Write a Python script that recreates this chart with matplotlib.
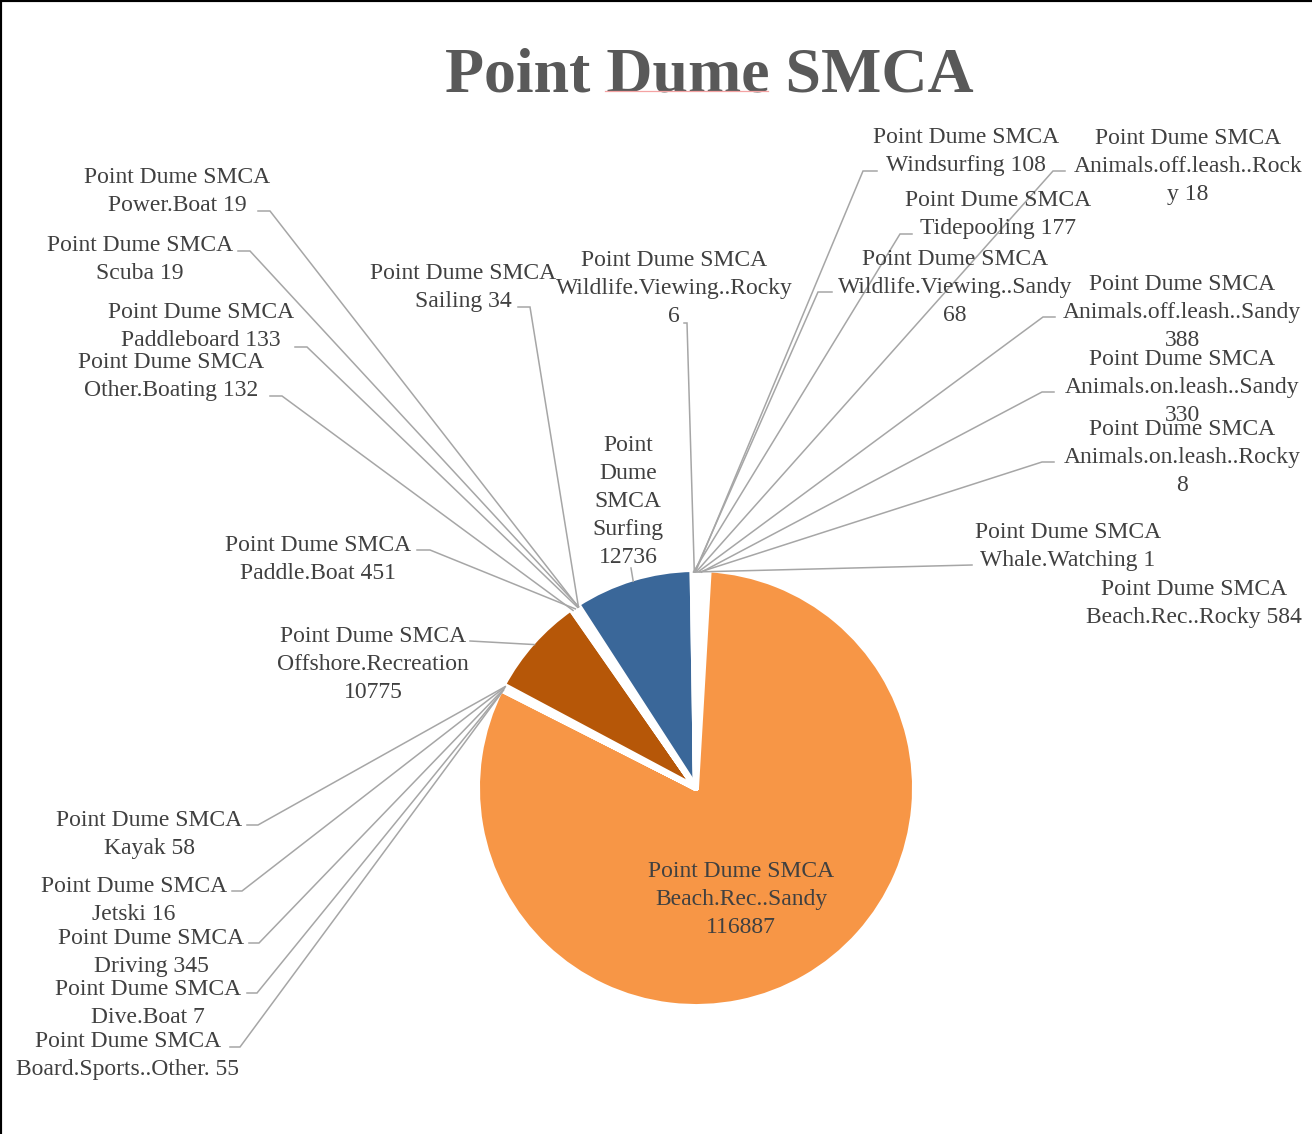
import textwrap
import numpy as np
import matplotlib
matplotlib.use("Agg")
import matplotlib.pyplot as plt
from matplotlib.lines import Line2D

# ---------------- data ----------------
location = "Point Dume SMCA"
categories = [
    "Animals.off.leash..Rocky", "Animals.off.leash..Sandy", "Animals.on.leash..Rocky",
    "Animals.on.leash..Sandy", "Beach.Rec..Rocky", "Beach.Rec..Sandy",
    "Board.Sports..Other.", "Dive.Boat", "Driving", "Jetski", "Kayak",
    "Offshore.Recreation", "Other.Boating", "Paddle.Boat", "Paddleboard",
    "Power.Boat", "Sailing", "Scuba", "Surfing", "Tidepooling",
    "Whale.Watching", "Wildlife.Viewing..Rocky", "Wildlife.Viewing..Sandy", "Windsurfing",
]
values = [18, 388, 8, 330, 584, 116887, 55, 7, 345, 16, 58, 10775, 132, 451, 133,
          19, 34, 19, 12736, 177, 1, 6, 68, 108]

# ---------------- style / layout ----------------
colors = ["#4F81BD", "#C0504D", "#9BBB59", "#8064A2", "#4BACC6", "#F79646",
          "#3A5F8E", "#8F3B39", "#738C42", "#5F4A79", "#378196", "#B65708",
          "#7F9FCF", "#CF7E7C", "#B5CD8A", "#A28EBE", "#7EC2D6", "#F9B27E",
          "#3A6799", "#9C3F3C", "#7E9A48", "#6A5287", "#3D8EA6", "#C96A1E"]

W, H = 1312, 1134
FONT = "Liberation Serif"
TXT = "#404040"
LEAD = "#A6A6A6"
PITCH = 28

# label layout in pixel coords: centre x, centre y of first line, wrap width, leader (xa, xb, y)
layout = {
    "Power.Boat": (177, 175, 30, (258, 270, 211)),
    "Scuba": (140, 243, 30, (238, 250, 251)),
    "Paddleboard": (201, 310, 30, (295, 307, 347)),
    "Other.Boating": (171, 360, 30, (270, 282, 396)),
    "Paddle.Boat": (318, 543, 30, (417, 430, 550)),
    "Offshore.Recreation": (373, 634, 19, (470, 470, 641)),
    "Sailing": (463, 271, 30, (518, 530, 307)),
    "Wildlife.Viewing..Rocky": (674, 258, 23, (684, 687, 323)),
    "Surfing": (628, 443, 7, (631, 631, 568)),
    "Windsurfing": (966, 135, 30, (877, 863, 171)),
    "Animals.off.leash..Rocky": (1188, 136, 23, (1065, 1053, 171)),
    "Tidepooling": (998, 198, 30, (912, 900, 234)),
    "Wildlife.Viewing..Sandy": (955, 257, 23, (832, 818, 292)),
    "Animals.off.leash..Sandy": (1182, 282, 24, (1055, 1043, 317)),
    "Animals.on.leash..Sandy": (1182, 357, 23, (1054, 1042, 392)),
    "Animals.on.leash..Rocky": (1182, 427, 23, (1054, 1042, 462)),
    "Whale.Watching": (1068, 530, 30, (972, 972, 565)),
    "Beach.Rec..Rocky": (1194, 587, 30, None),
    "Beach.Rec..Sandy": (741, 869, 16, None),
    "Kayak": (149, 818, 30, (247, 258, 825)),
    "Jetski": (134, 884, 30, (232, 242, 891)),
    "Driving": (151, 936, 30, (249, 259, 943)),
    "Dive.Boat": (148, 987, 30, (247, 257, 993)),
    "Board.Sports..Other.": (128, 1039, 30, (230, 240, 1047)),
}


def Y(y):
    return H - y


fig = plt.figure(figsize=(W / 100, H / 100), dpi=100)
ax = fig.add_axes([0, 0, 1, 1])
ax.set_xlim(0, W)
ax.set_ylim(0, H)
ax.set_aspect("equal")
ax.axis("off")

cx, cy, R = 696, Y(788), 219
wedges, _ = ax.pie(values, colors=colors, startangle=90, counterclock=False,
                   center=(cx, cy), radius=R, frame=True,
                   wedgeprops=dict(edgecolor="white", linewidth=4.3, joinstyle="round"))
ax.set_xlim(0, W)
ax.set_ylim(0, H)
ax.axis("off")

edge_r = R - 3
for cat, val, wdg in zip(categories, values, wedges):
    cxl, y0, wrapw, lead = layout[cat]
    lines = textwrap.wrap(location, wrapw) + textwrap.wrap(f"{cat} {val}", wrapw,
                                                            break_long_words=True)
    for i, ln in enumerate(lines):
        ax.text(cxl, Y(y0 + i * PITCH + 8), ln, ha="center", va="baseline",
                fontsize=17, family=FONT, color=TXT, zorder=5)
    if lead is not None:
        mid = np.deg2rad((wdg.theta1 + wdg.theta2) / 2)
        wx, wy = cx + edge_r * np.cos(mid), cy + edge_r * np.sin(mid)
        xa, xb, ly = lead
        ax.plot([xa, xb, wx], [Y(ly), Y(ly), wy], color=LEAD, lw=1.1,
                solid_joinstyle="miter", zorder=4)

# title
ax.text(709, Y(92), "Point Dume SMCA", ha="center", va="baseline", fontsize=46,
        fontweight="bold", family=FONT, color="#595959")
ax.plot([605, 768], [Y(91), Y(91)], color="#F4A3A3", lw=0.9, zorder=6)

# frame edges (top and left)
fig.add_artist(Line2D([0, 1], [1, 1], transform=fig.transFigure, color="black", lw=3))
fig.add_artist(Line2D([0, 0], [0, 1], transform=fig.transFigure, color="black", lw=3))

fig.savefig("out.png", dpi=100, facecolor="white")
